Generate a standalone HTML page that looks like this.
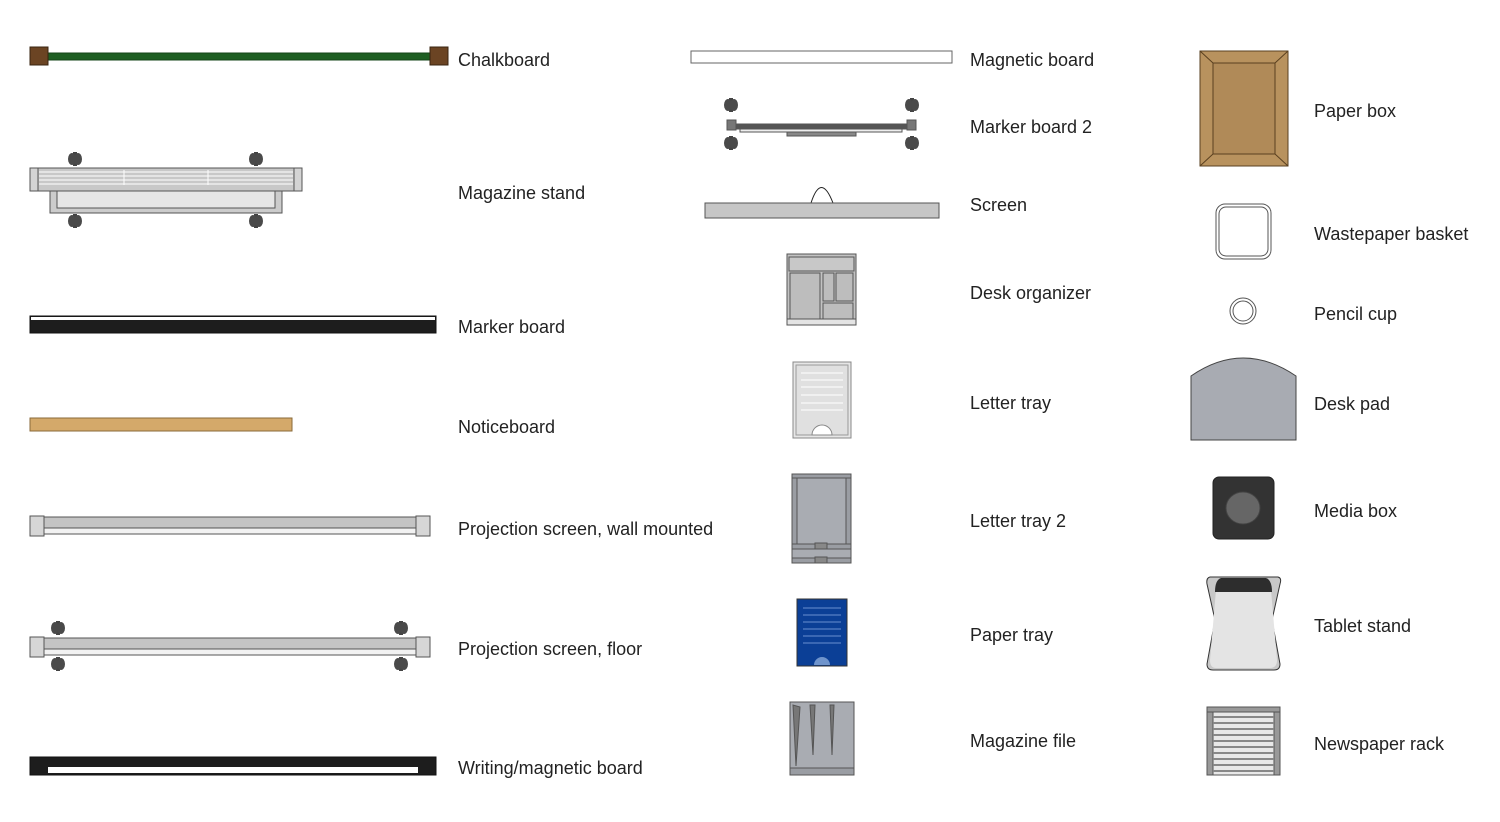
<!DOCTYPE html>
<html><head><meta charset="utf-8"><style>
html,body{margin:0;padding:0;background:#fff;}
svg{display:block;}
text{font-family:"Liberation Sans",sans-serif;font-size:18px;fill:#222;}
</style></head><body>
<svg width="1500" height="822" viewBox="0 0 1500 822" xmlns="http://www.w3.org/2000/svg">
<defs>
<g id="knob"><rect x="-2" y="-7" width="4" height="14" fill="#444"/><ellipse cx="-3" cy="0" rx="4" ry="6" fill="#4a4a4a"/><ellipse cx="3" cy="0" rx="4" ry="6" fill="#4a4a4a"/></g>
</defs>
<g stroke="#555" stroke-width="1">
<!-- Chalkboard -->
<rect x="44" y="53" width="390" height="7" fill="#1e5e22" stroke="#164418"/>
<rect x="30" y="47" width="18" height="18" fill="#6b4423" stroke="#3a2410"/>
<rect x="430" y="47" width="18" height="18" fill="#6b4423" stroke="#3a2410"/>
<!-- Magazine stand -->
<g stroke="none"><use href="#knob" x="75" y="159"/><use href="#knob" x="256" y="159"/><use href="#knob" x="75" y="221"/><use href="#knob" x="256" y="221"/></g>
<rect x="50" y="191" width="232" height="22" fill="#ccc"/>
<rect x="57" y="191" width="218" height="17" fill="#e6e6e6"/>
<rect x="30" y="168" width="272" height="23" fill="#c8c8c8"/>
<rect x="30" y="168" width="8" height="23" fill="#d4d4d4"/><rect x="294" y="168" width="8" height="23" fill="#d4d4d4"/>
<g stroke="#fff" stroke-width="1"><line x1="39" y1="172" x2="293" y2="172"/><line x1="39" y1="176" x2="293" y2="176"/><line x1="39" y1="180" x2="293" y2="180"/><line x1="39" y1="184" x2="293" y2="184"/><line x1="124" y1="170" x2="124" y2="185"/><line x1="208" y1="170" x2="208" y2="185"/></g>
<!-- Marker board -->
<rect x="30" y="316" width="406" height="17" fill="#1d1d1d" stroke="#111"/>
<rect x="31" y="317" width="404" height="3" fill="#fff" stroke="none"/>
<!-- Noticeboard -->
<rect x="30" y="418" width="262" height="13" fill="#d4a96a" stroke="#8a6a3a"/>
<!-- Projection wall -->
<rect x="44" y="517" width="372" height="17" fill="#c4c4c4"/>
<rect x="44" y="528" width="372" height="6" fill="#f2f2f2"/>
<rect x="30" y="516" width="14" height="20" fill="#d6d6d6"/><rect x="416" y="516" width="14" height="20" fill="#d6d6d6"/>
<!-- Projection floor -->
<g stroke="none"><use href="#knob" x="58" y="628"/><use href="#knob" x="401" y="628"/><use href="#knob" x="58" y="664"/><use href="#knob" x="401" y="664"/></g>
<rect x="44" y="638" width="372" height="17" fill="#c4c4c4"/>
<rect x="44" y="649" width="372" height="6" fill="#f2f2f2"/>
<rect x="30" y="637" width="14" height="20" fill="#d6d6d6"/><rect x="416" y="637" width="14" height="20" fill="#d6d6d6"/>
<!-- Writing board -->
<rect x="30" y="757" width="406" height="18" fill="#1d1d1d" stroke="#111"/>
<rect x="48" y="767" width="370" height="6" fill="#fff" stroke="none"/>

<!-- Magnetic board -->
<rect x="691" y="51" width="261" height="12" fill="#fff" stroke="#666"/>
<!-- Marker board 2 -->
<rect x="787" y="129" width="69" height="7" fill="#888"/>
<rect x="735" y="124" width="172" height="5" fill="#555"/>
<rect x="740" y="129" width="162" height="3" fill="#eee"/>
<g stroke="none"><use href="#knob" x="731" y="105"/><use href="#knob" x="731" y="143"/><use href="#knob" x="912" y="105"/><use href="#knob" x="912" y="143"/></g>
<rect x="727" y="120" width="9" height="10" fill="#777"/><rect x="907" y="120" width="9" height="10" fill="#777"/>
<!-- Screen -->
<path d="M811 203 Q821 172 833 203" fill="none" stroke="#222"/>
<rect x="705" y="203" width="234" height="15" fill="#c6c6c6"/>
<!-- Desk organizer -->
<rect x="787" y="254" width="69" height="71" fill="#c2c2c2"/>
<rect x="789" y="257" width="65" height="14" fill="#c8c8c8"/>
<rect x="790" y="273" width="30" height="46" fill="#bdbdbd"/>
<rect x="823" y="273" width="11" height="28" fill="#bdbdbd"/><rect x="836" y="273" width="17" height="28" fill="#bdbdbd"/>
<rect x="823" y="303" width="30" height="16" fill="#bdbdbd"/>
<rect x="787" y="319" width="69" height="6" fill="#e4e4e4"/>
<!-- Letter tray -->
<rect x="793" y="362" width="58" height="76" fill="#e6e6e6" stroke="#888"/>
<rect x="796" y="365" width="52" height="70" fill="#e0e0e0" stroke="#999"/>
<g stroke="#fff"><line x1="801" y1="373" x2="843" y2="373"/><line x1="801" y1="380" x2="843" y2="380"/><line x1="801" y1="387" x2="843" y2="387"/><line x1="801" y1="395" x2="843" y2="395"/><line x1="801" y1="403" x2="843" y2="403"/><line x1="801" y1="410" x2="843" y2="410"/></g>
<path d="M812 435 A10 10 0 0 1 832 435 Z" fill="#fff" stroke="#888"/>
<!-- Letter tray 2 -->
<rect x="792" y="474" width="59" height="89" fill="#a9acb2"/>
<rect x="792" y="474" width="59" height="4" fill="#9a9da3"/>
<rect x="792" y="478" width="5" height="66" fill="#9a9da3"/><rect x="846" y="478" width="5" height="66" fill="#9a9da3"/>
<rect x="792" y="544" width="59" height="5" fill="#9a9da3"/><rect x="792" y="558" width="59" height="5" fill="#9a9da3"/>
<rect x="815" y="543" width="12" height="6" fill="#888"/><rect x="815" y="557" width="12" height="6" fill="#888"/>
<!-- Paper tray -->
<rect x="797" y="599" width="50" height="67" fill="#0b3f96" stroke="#333"/>
<g stroke="#6a8fd0"><line x1="803" y1="608" x2="841" y2="608"/><line x1="803" y1="615" x2="841" y2="615"/><line x1="803" y1="622" x2="841" y2="622"/><line x1="803" y1="629" x2="841" y2="629"/><line x1="803" y1="636" x2="841" y2="636"/><line x1="803" y1="643" x2="841" y2="643"/></g>
<path d="M814 665 A8 8 0 0 1 830 665 Z" fill="#6f94cc" stroke="none"/>
<!-- Magazine file -->
<rect x="790" y="702" width="64" height="73" fill="#a9acb2"/>
<rect x="790" y="768" width="64" height="7" fill="#9a9da3"/>
<path d="M793 705 L796 766 L800 707 Z M810 705 L813 755 L815 705 Z M830 705 L832 755 L834 705 Z" fill="#777"/>

<!-- Paper box -->
<rect x="1200" y="51" width="88" height="115" fill="#b8925e" stroke="#5a4020"/>
<rect x="1213" y="63" width="62" height="91" fill="#b08a58" stroke="#5a4020"/>
<path d="M1200 51 L1213 63 M1288 51 L1275 63 M1200 166 L1213 154 M1288 166 L1275 154" stroke="#5a4020"/>
<!-- Wastepaper -->
<rect x="1216" y="204" width="55" height="55" rx="9" fill="#fff" stroke="#555"/>
<rect x="1219" y="207" width="49" height="49" rx="7" fill="#fff" stroke="#555"/>
<!-- Pencil cup -->
<circle cx="1243" cy="311" r="13" fill="#fff" stroke="#555"/><circle cx="1243" cy="311" r="10" fill="#fff" stroke="#555"/>
<!-- Desk pad -->
<path d="M1191 376 Q1243 340 1296 376 L1296 440 L1191 440 Z" fill="#a8abb2" stroke="#444"/>
<!-- Media box -->
<rect x="1213" y="477" width="61" height="62" rx="6" fill="#333" stroke="#222"/>
<ellipse cx="1243" cy="508" rx="17" ry="16" fill="#666" stroke="#444"/>
<!-- Tablet stand -->
<path d="M1210 577 L1278 577 Q1282 578 1280 584 L1272 620 L1280 664 Q1280 670 1274 670 L1213 670 Q1207 670 1207 664 L1215 620 L1207 584 Q1206 578 1210 577 Z" fill="#c8c8c8" stroke="#333"/>
<path d="M1221 578 L1266 578 Q1272 580 1271 590 L1277 660 Q1277 668 1270 668 L1216 668 Q1210 668 1210 660 L1216 590 Q1215 580 1221 578 Z" fill="#e4e4e4" stroke="none"/>
<path d="M1221 578 L1266 578 Q1272 580 1272 592 L1215 592 Q1215 580 1221 578 Z" fill="#2d2d2d" stroke="none"/>
<!-- Newspaper rack -->
<rect x="1207" y="707" width="73" height="68" fill="#e8e8e8" stroke="#555"/>
<rect x="1207" y="707" width="6" height="68" fill="#999"/><rect x="1274" y="707" width="6" height="68" fill="#999"/>
<rect x="1207" y="707" width="73" height="5" fill="#999"/>
<g stroke="#888" stroke-width="2"><line x1="1213" y1="717" x2="1274" y2="717"/><line x1="1213" y1="723" x2="1274" y2="723"/><line x1="1213" y1="729" x2="1274" y2="729"/><line x1="1213" y1="735" x2="1274" y2="735"/><line x1="1213" y1="741" x2="1274" y2="741"/><line x1="1213" y1="747" x2="1274" y2="747"/><line x1="1213" y1="753" x2="1274" y2="753"/><line x1="1213" y1="759" x2="1274" y2="759"/><line x1="1213" y1="765" x2="1274" y2="765"/><line x1="1213" y1="771" x2="1274" y2="771"/></g>
</g>

<text x="458" y="66">Chalkboard</text>
<text x="458" y="199">Magazine stand</text>
<text x="458" y="333">Marker board</text>
<text x="458" y="433">Noticeboard</text>
<text x="458" y="535">Projection screen, wall mounted</text>
<text x="458" y="655">Projection screen, floor</text>
<text x="458" y="774">Writing/magnetic board</text>
<text x="970" y="66">Magnetic board</text>
<text x="970" y="133">Marker board 2</text>
<text x="970" y="211">Screen</text>
<text x="970" y="299">Desk organizer</text>
<text x="970" y="409">Letter tray</text>
<text x="970" y="527">Letter tray 2</text>
<text x="970" y="641">Paper tray</text>
<text x="970" y="747">Magazine file</text>
<text x="1314" y="117">Paper box</text>
<text x="1314" y="240">Wastepaper basket</text>
<text x="1314" y="320">Pencil cup</text>
<text x="1314" y="410">Desk pad</text>
<text x="1314" y="517">Media box</text>
<text x="1314" y="632">Tablet stand</text>
<text x="1314" y="750">Newspaper rack</text>
</svg>
</body></html>
